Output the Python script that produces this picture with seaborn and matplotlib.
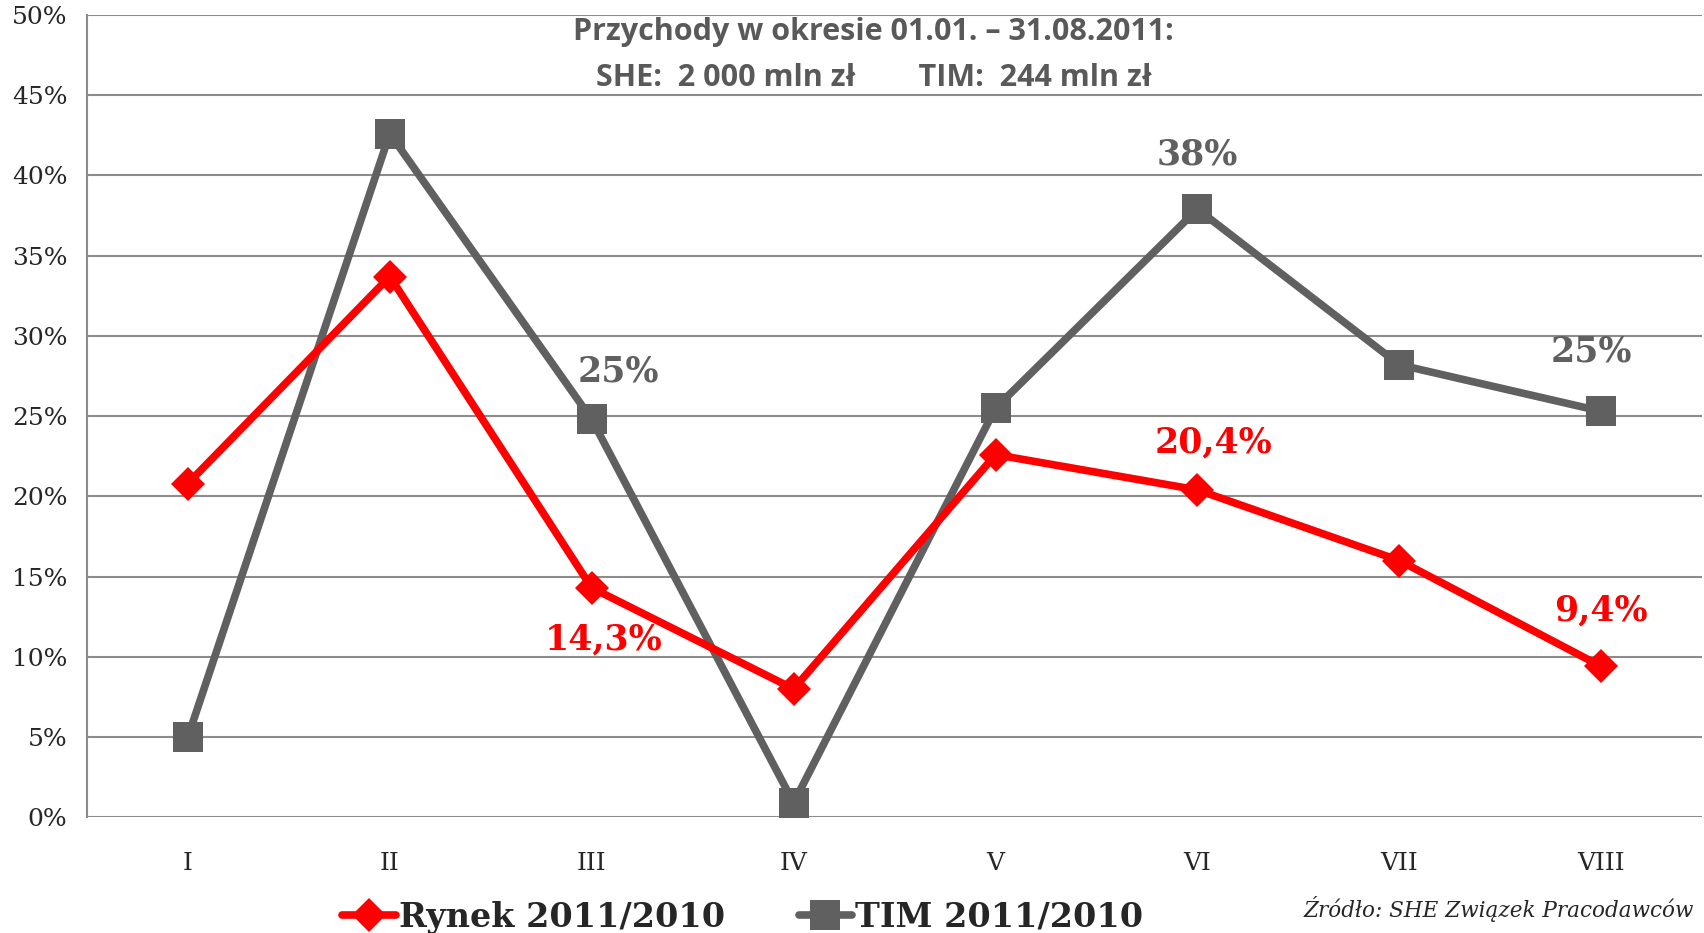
import matplotlib
matplotlib.use('Agg')
import matplotlib.pyplot as plt
import seaborn as sns
import pandas as pd
from matplotlib.lines import Line2D

months = ['I', 'II', 'III', 'IV', 'V', 'VI', 'VII', 'VIII']
rynek = [20.8, 33.7, 14.3, 8.0, 22.6, 20.4, 16.0, 9.4]
tim = [5.0, 42.6, 24.8, 0.9, 25.5, 37.9, 28.2, 25.3]
y_ticks = [0, 5, 10, 15, 20, 25, 30, 35, 40, 45, 50]

RED = '#ff0000'
GREY = '#606060'
SERIF = ['DejaVu Serif']

sns.set_style('white')
plt.rcParams['font.family'] = SERIF

df = pd.DataFrame({'pos': range(len(months)), 'Rynek': rynek, 'TIM': tim})

fig = plt.figure(figsize=(17.04, 9.33), dpi=100)
ax = fig.add_axes([0.051, 0.124, 0.948, 0.86])

sns.lineplot(data=df, x='pos', y='Rynek', ax=ax, color=RED, lw=5.5,
             marker='D', markersize=17, markeredgewidth=0, zorder=4)
sns.lineplot(data=df, x='pos', y='TIM', ax=ax, color=GREY, lw=5.5,
             marker='s', markersize=22, markeredgewidth=0, zorder=3)

ax.set_xlim(-0.5, len(months) - 0.5)
ax.set_ylim(0, 50)
ax.set_yticks(y_ticks)
ax.set_yticklabels([f'{v}%' for v in y_ticks], fontsize=18)
ax.set_xticks([i + 0.5 for i in range(-1, len(months))])
ax.set_xticklabels([])
ax.set_xticks(range(len(months)), minor=True)
ax.set_xticklabels(months, minor=True, fontsize=18)
ax.tick_params(axis='x', which='major', length=7, color='#8c8c8c', width=1.5, direction='out')
ax.tick_params(axis='x', which='minor', length=0, pad=25)
ax.tick_params(axis='y', length=8, color='#8c8c8c', width=1.5, direction='out', pad=6)
ax.yaxis.grid(True, color='#8c8c8c', lw=1.5)
ax.set_axisbelow(True)
for side in ['top', 'right', 'bottom']:
    ax.spines[side].set_visible(False)
ax.spines['left'].set_color('#8c8c8c')
ax.spines['left'].set_linewidth(1.5)
ax.set_xlabel('')
ax.set_ylabel('')

# value labels on selected points
lbl_kw = dict(textcoords='offset points', ha='center', fontsize=25, fontweight='bold')
ax.annotate('25%', (2.13, tim[2]), xytext=(0, 22), va='bottom', color=GREY, **lbl_kw)
ax.annotate('38%', (5.0, tim[5]), xytext=(0, 27), va='bottom', color=GREY, **lbl_kw)
ax.annotate('25%', (6.95, tim[7]), xytext=(0, 31), va='bottom', color=GREY, **lbl_kw)
ax.annotate('14,3%', (2.06, rynek[2]), xytext=(0, -25), va='top', color=RED, **lbl_kw)
ax.annotate('20,4%', (5.08, rynek[5]), xytext=(0, 22), va='bottom', color=RED, **lbl_kw)
ax.annotate('9,4%', (7.0, rynek[7]), xytext=(0, 28), va='bottom', color=RED, **lbl_kw)

title_kw = dict(ha='center', va='center', fontsize=22, fontweight='bold',
                color='#595959', family=['Open Sans', 'DejaVu Sans'], transform=ax.transAxes)
ax.text(0.487, 0.979, 'Przychody w okresie 01.01. \u2013 31.08.2011:', **title_kw)
ax.text(0.487, 0.922, 'SHE:  2 000 mln z\u0142        TIM:  244 mln z\u0142', **title_kw)

handles = [
    Line2D([], [], color=RED, lw=5.5, marker='D', markersize=17, markeredgewidth=0),
    Line2D([], [], color=GREY, lw=5.5, marker='s', markersize=22, markeredgewidth=0),
]
fig.legend(handles, ['Rynek 2011/2010', 'TIM 2011/2010'], loc='center',
           bbox_to_anchor=(0.436, 0.017), ncol=2, frameon=False, handlelength=1.6,
           handletextpad=0.1, columnspacing=2.2,
           prop={'family': SERIF, 'weight': 'bold', 'size': 24})

fig.text(0.765, 0.012, '\u0179r\u00f3d\u0142o: SHE Zwi\u0105zek Pracodawc\u00f3w',
         ha='left', va='bottom', fontsize=15.5, style='italic', family=SERIF)

fig.savefig('out.png', dpi=100)
